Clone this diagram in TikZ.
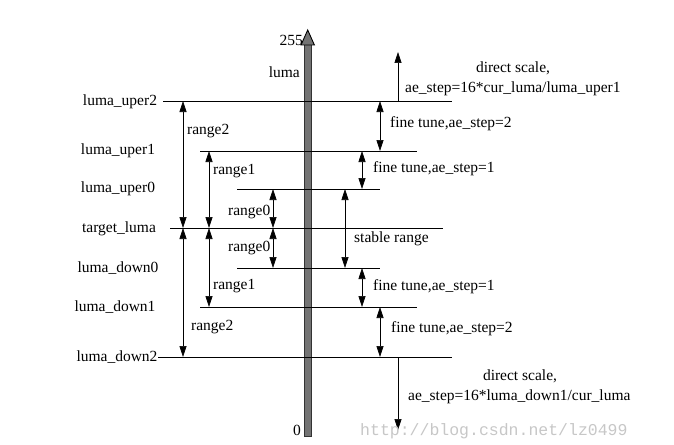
\documentclass[tikz,border=0pt]{standalone}
\usepackage{fontspec}
\setmainfont{Liberation Serif}
\newfontfamily\wmfont{Liberation Mono}
\usetikzlibrary{arrows.meta}
\begin{document}
\begin{tikzpicture}[x=1pt,y=-1pt,
  lvl/.style={line width=0.9pt},
  tri/.tip={Triangle[length=11pt,width=7pt]},
  dim/.style={line width=0.6pt,{tri}-{tri}},
  dimone/.style={line width=0.6pt,-{tri}},
  lab/.style={font=\fontsize{15.5}{18}\selectfont,inner sep=0pt},
  wm/.style={font=\wmfont\fontsize{16.5}{18}\selectfont,inner sep=0pt,text=black!22},
]
\useasboundingbox (0,0) rectangle (674,444);

% axis
\filldraw[fill=black!55,draw=black!80,line width=0.6pt] (304,44) rectangle (311.5,436);
\filldraw[fill=black!55,draw=black,line width=0.9pt] (301,45) -- (307.7,30) -- (314.4,45) -- cycle;
\node[lab,anchor=mid east] (n255) at (303,43) {255};
\node[lab,anchor=mid east] (nluma) at (300,75) {luma};
\node[lab,anchor=mid east] (nzero) at (301,433) {0};

% levels
\coordinate (u2L) at (163,101); \coordinate (u2R) at (452,101);
\coordinate (u1L) at (200,151); \coordinate (u1R) at (417,151);
\coordinate (u0L) at (237,189); \coordinate (u0R) at (380,189);
\coordinate (tL)  at (170,228); \coordinate (tR)  at (443,228);
\coordinate (d0L) at (237,268); \coordinate (d0R) at (380,268);
\coordinate (d1L) at (200,307); \coordinate (d1R) at (417,307);
\coordinate (d2L) at (158,357); \coordinate (d2R) at (452,357);
\foreach \a/\b in {u2L/u2R,u1L/u1R,u0L/u0R,tL/tR,d0L/d0R,d1L/d1R,d2L/d2R}
  \draw[lvl] (\a) -- (\b);

% level labels
\node[lab] (lu2) at (120,101.5) {luma\_uper2};
\node[lab] (lu1) at (118,150.5) {luma\_uper1};
\node[lab] (lu0) at (118,188.5) {luma\_uper0};
\node[lab] (lt)  at (119,228.5) {target\_luma};
\node[lab] (ld0) at (118,268.5) {luma\_down0};
\node[lab] (ld1) at (115,307.5) {luma\_down1};
\node[lab] (ld2) at (117,357.5) {luma\_down2};

% range arrows
\coordinate (xr2) at (183,0);
\coordinate (xr1) at (209,0);
\coordinate (xr0) at (273,0);
\coordinate (xst) at (345,0);
\coordinate (xf1) at (362,0);
\coordinate (xf2) at (380,0);
\coordinate (xds) at (398,0);
\coordinate (topend) at (398,52);
\coordinate (botend) at (398,430);

\draw[dim] (xr2 |- u2L) -- (xr2 |- tL);
\draw[dim] (xr2 |- tL) -- (xr2 |- d2L);
\draw[dim] (xr1 |- u1L) -- (xr1 |- tL);
\draw[dim] (xr1 |- tL) -- (xr1 |- d1L);
\draw[dim] (xr0 |- u0L) -- (xr0 |- tL);
\draw[dim] (xr0 |- tL) -- (xr0 |- d0L);
\draw[dim] (xst |- u0L) -- (xst |- d0L);
\draw[dim] (xf2 |- u2L) -- (xf2 |- u1L);
\draw[dim] (xf1 |- u1L) -- (xf1 |- u0L);
\draw[dim] (xf1 |- d0L) -- (xf1 |- d1L);
\draw[dim] (xf2 |- d1L) -- (xf2 |- d2L);
\draw[dimone] (xds |- u2L) -- (topend);
\draw[dimone] (xds |- d2L) -- (botend);

\node[lab,anchor=mid west] (r2a) at (187,132) {range2};
\node[lab,anchor=mid west] (r1a) at (213,172) {range1};
\node[lab,anchor=mid west] (r0a) at (228,213) {range0};
\node[lab,anchor=mid west] (r0b) at (228,249) {range0};
\node[lab,anchor=mid west] (r1b) at (213,287) {range1};
\node[lab,anchor=mid west] (r2b) at (191,328) {range2};

% right labels
\node[lab] (ds1) at (513,68) {direct scale,};
\node[lab,anchor=mid west] (ds1b) at (405,90) {ae\_step=16*cur\_luma/luma\_uper1};
\node[lab,anchor=mid west] (ft2a) at (390,125) {fine tune,ae\_step=2};
\node[lab,anchor=mid west] (ft1a) at (373,170) {fine tune,ae\_step=1};
\node[lab,anchor=mid west] (stb) at (354,240) {stable range};
\node[lab,anchor=mid west] (ft1b) at (373,288) {fine tune,ae\_step=1};
\node[lab,anchor=mid west] (ft2b) at (391,330) {fine tune,ae\_step=2};
\node[lab] (ds2) at (520,376) {direct scale,};
\node[lab,anchor=mid west] (ds2b) at (408,398) {ae\_step=16*luma\_down1/cur\_luma};

\node[wm,anchor=mid west] (wmk) at (360,433) {http://blog.csdn.net/lz0499};
\end{tikzpicture}
\end{document}
